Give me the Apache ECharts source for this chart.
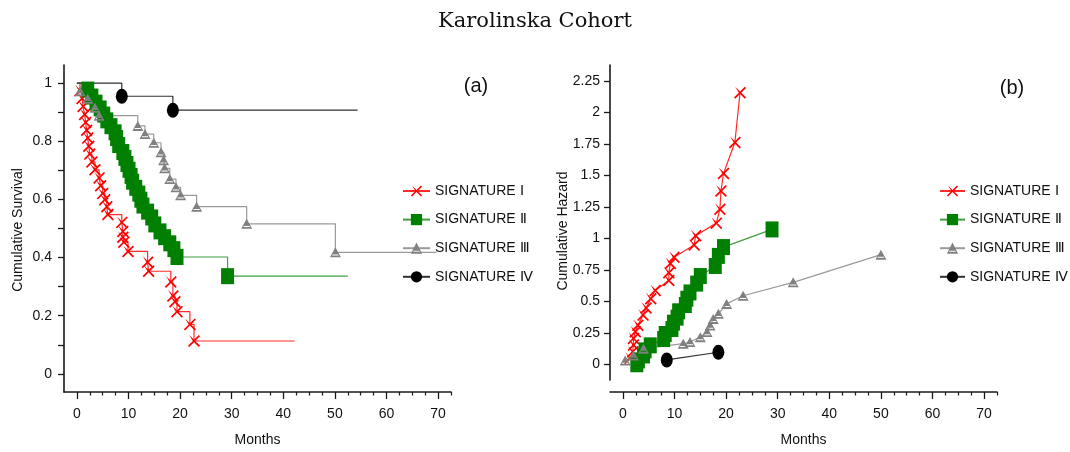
<!DOCTYPE html>
<html>
<head>
<meta charset="utf-8">
<script src="https://cdn.jsdelivr.net/npm/echarts@6/dist/echarts.min.js"></script>
<style>
html,body{margin:0;padding:0;background:#fff;}
#chart{width:1070px;height:452px;}
</style>
</head>
<body>
<div id="chart"></div>
<script>
// ---------- data ----------
const seriesNames = ['SIGNATURE Ⅰ', 'SIGNATURE Ⅱ', 'SIGNATURE Ⅲ', 'SIGNATURE Ⅳ'];

// (a) Kaplan-Meier survival: [month, survival]
const survI = [[0,1],[0.6,0.974],[1.0,0.947],[1.2,0.92],[1.5,0.892],[1.7,0.865],[1.9,0.838],[2.1,0.811],[2.3,0.783],[2.5,0.756],[2.9,0.729],[3.5,0.702],[4.3,0.674],[4.6,0.647],[5.0,0.620],[5.4,0.599],[5.8,0.575],[6.0,0.548],[8.7,0.521],[8.9,0.49],[8.9,0.47],[9.1,0.453],[9.9,0.421],[13.7,0.384],[13.9,0.353],[18.2,0.316],[18.6,0.268],[19.0,0.248],[19.4,0.214],[21.9,0.170],[22.7,0.113],[42.2,0.113]];
const survII = [[0,1],[2.1,0.978],[2.9,0.954],[3.7,0.933],[4.5,0.913],[5.2,0.892],[5.8,0.872],[6.6,0.852],[7.4,0.831],[7.7,0.811],[8.1,0.787],[8.9,0.763],[9.3,0.743],[9.7,0.722],[10.1,0.702],[10.5,0.681],[10.8,0.661],[11.4,0.640],[12.0,0.620],[12.4,0.599],[12.8,0.579],[13.7,0.558],[14.5,0.538],[15.1,0.514],[16.1,0.490],[17.0,0.470],[18.0,0.449],[18.8,0.429],[19.4,0.402],[29.2,0.336],[52.5,0.336]];
const survIII = [[0,1],[0.6,0.972],[2.1,0.946],[3.5,0.915],[4.3,0.888],[11.8,0.853],[13.2,0.825],[14.9,0.795],[16.3,0.762],[16.8,0.735],[17.0,0.707],[18.0,0.670],[19.2,0.642],[20.1,0.614],[23.2,0.575],[32.9,0.516],[50.1,0.418],[69.7,0.418]];
const survIV = [[0,1],[8.7,0.955],[18.6,0.907],[54.4,0.907]];

// (b) cumulative hazard: [month, hazard]
const hazI = [[1.4,0.047],[1.9,0.10],[2.05,0.152],[2.05,0.205],[2.4,0.258],[2.9,0.31],[3.9,0.39],[4.5,0.447],[5.4,0.52],[6.25,0.586],[8.9,0.665],[8.9,0.726],[9.2,0.80],[9.9,0.85],[13.8,0.946],[14.1,1.02],[18.1,1.12],[18.8,1.23],[19.0,1.375],[19.5,1.514],[21.7,1.76],[22.7,2.155]];
const hazII = [[2.7,0.0],[3.0,0.03],[4.0,0.07],[4.3,0.11],[5.3,0.15],[7.9,0.20],[8.2,0.24],[9.5,0.28],[9.8,0.33],[10.5,0.37],[10.8,0.42],[12.1,0.47],[12.4,0.52],[13.0,0.57],[14.3,0.64],[15.0,0.70],[17.9,0.78],[18.5,0.86],[19.5,0.93],[28.9,1.07]];
const hazIII = [[0.45,0.03],[2.05,0.07],[4.0,0.124],[11.7,0.163],[13.0,0.176],[15.0,0.215],[16.3,0.255],[16.9,0.308],[17.5,0.36],[18.5,0.40],[20.1,0.479],[23.3,0.544],[33.0,0.65],[50.0,0.87]];
const hazIV = [[8.5,0.034],[18.5,0.095]];

// axis ticks / labels
const monthMajor = [0,10,20,30,40,50,60,70];
const monthMinor = [2.5,5,7.5,12.5,15,17.5,22.5,25,27.5,32.5,35,37.5,42.5,45,47.5,52.5,55,57.5,62.5,65,67.5,72.5];
const survTicks = [0,0.1,0.2,0.3,0.4,0.5,0.6,0.7,0.8,0.9,1];
const survLabels = [0,0.2,0.4,0.6,0.8,1];
const hazTicks = [0,0.25,0.5,0.75,1,1.25,1.5,1.75,2,2.25];

// ---------- styles ----------
const FONT = 'Liberation Sans, Arial, sans-serif';
const AX = '#1a1a1a';
const crossPath = 'path://M1,0L5,4L9,0L10,1L6,5L10,9L9,10L5,6L1,10L0,9L4,5Z';
const trianglePath = 'path://M5.5,0L11,10L0,10Z M2.6,7.2L2.2,8.2L8.8,8.2L8.4,7.2Z';
const styles = [
  {symbol: crossPath, symbolSize: 12, color: '#ff0000', line: '#ff2a2a'},
  {symbol: 'rect', symbolSize: [13,16], color: '#007f00', line: '#3f9f3f'},
  {symbol: trianglePath, symbolSize: [11,10], color: '#808080', line: '#9a9a9a'},
  {symbol: 'circle', symbolSize: [12,15], color: '#000000', line: '#303030'}
];

function kmData(arr){
  // first (start) and last (censoring end) points carry no marker
  return arr.map((p, i) => (i === 0 || i === arr.length - 1) ? {value: p, symbol: 'none'} : {value: p});
}

const survSets = [survI, survII, survIII, survIV];
const hazSets = [hazI, hazII, hazIII, hazIV];
const series = [];
survSets.forEach((d, k) => {
  const s = styles[k];
  series.push({
    name: seriesNames[k], type: 'line', xAxisIndex: 0, yAxisIndex: 0,
    step: 'end', data: kmData(d), symbol: s.symbol, symbolSize: s.symbolSize,
    showAllSymbol: true, itemStyle: {color: s.color},
    lineStyle: {color: s.line, width: 1.2}, emphasis: {disabled: true}
  });
});
hazSets.forEach((d, k) => {
  const s = styles[k];
  series.push({
    name: seriesNames[k], type: 'line', xAxisIndex: 2, yAxisIndex: 1,
    data: d, symbol: s.symbol, symbolSize: s.symbolSize,
    showAllSymbol: true, itemStyle: {color: s.color},
    lineStyle: {color: s.line, width: 1.2}, emphasis: {disabled: true}
  });
});

const labelStyle = {fontFamily: FONT, fontSize: 14, color: '#111'};
function xMain(grid, offset){
  return {
    gridIndex: grid, type: 'value', position: 'bottom', offset: offset, min: -2.5, max: 72.5,
    axisLine: {show: true, onZero: false, lineStyle: {color: AX, width: 1.6}},
    axisTick: {show: true, length: 7, customValues: monthMajor, lineStyle: {color: AX, width: 1.3}},
    axisLabel: Object.assign({customValues: monthMajor, margin: 15}, labelStyle),
    splitLine: {show: false},
    name: 'Months', nameLocation: 'middle', nameGap: 41,
    nameTextStyle: {fontFamily: FONT, fontSize: 14, color: '#111'}
  };
}
function xMinor(grid, offset){
  return {
    gridIndex: grid, type: 'value', position: 'bottom', offset: offset, min: -2.5, max: 72.5,
    axisLine: {show: false, onZero: false},
    axisTick: {show: true, length: 3.5, customValues: monthMinor, lineStyle: {color: AX, width: 1.2}},
    axisLabel: {show: false}, splitLine: {show: false}
  };
}

const option = {
  animation: false,
  backgroundColor: '#ffffff',
  title: {
    text: 'Karolinska Cohort', left: 'center', top: 6,
    textStyle: {fontFamily: 'DejaVu Serif, serif', fontSize: 21, fontWeight: 'normal', color: '#111'}
  },
  grid: [
    {left: 64, top: 65, width: 387, height: 329},
    {left: 610, top: 65, width: 387, height: 317}
  ],
  xAxis: [xMain(0, 0), xMinor(0, 0), xMain(1, 12), xMinor(1, 12)],
  yAxis: [
    {
      gridIndex: 0, type: 'value', min: -0.0625, max: 1.0625,
      axisLine: {show: true, onZero: false, lineStyle: {color: AX, width: 1.6}},
      axisTick: {show: true, length: 6, customValues: survTicks, lineStyle: {color: AX, width: 1.3}},
      axisLabel: Object.assign({customValues: survLabels, margin: 12}, labelStyle),
      splitLine: {show: false}
    },
    {
      gridIndex: 1, type: 'value', min: -0.125, max: 2.375,
      axisLine: {show: true, onZero: false, lineStyle: {color: AX, width: 1.6}},
      axisTick: {show: true, length: 6, customValues: hazTicks, lineStyle: {color: AX, width: 1.3}},
      axisLabel: Object.assign({customValues: hazTicks, margin: 10}, labelStyle),
      splitLine: {show: false}
    }
  ],
  legend: [
    {left: 397, top: 179, orient: 'vertical', itemWidth: 27, itemHeight: 14, itemGap: 14.6,
     textStyle: labelStyle, data: seriesNames, selectedMode: false},
    {left: 934, top: 179, orient: 'vertical', itemWidth: 25, itemHeight: 14, itemGap: 14.6,
     textStyle: labelStyle, data: seriesNames, selectedMode: false}
  ],
  graphic: [
    {type: 'text', x: 476, y: 86, style: {text: '(a)', fontFamily: FONT, fontSize: 20, fill: '#111', align: 'center', verticalAlign: 'middle'}},
    {type: 'text', x: 1012, y: 88, style: {text: '(b)', fontFamily: FONT, fontSize: 20, fill: '#111', align: 'center', verticalAlign: 'middle'}},
    {type: 'text', x: 18, y: 230, rotation: Math.PI / 2, style: {text: 'Cumulative Survival', fontFamily: FONT, fontSize: 14, fill: '#111', align: 'center', verticalAlign: 'middle'}},
    {type: 'text', x: 563, y: 231, rotation: Math.PI / 2, style: {text: 'Cumulative Hazard', fontFamily: FONT, fontSize: 14, fill: '#111', align: 'center', verticalAlign: 'middle'}}
  ],
  series: series
};

const chart = echarts.init(document.getElementById('chart'), null, {renderer: 'canvas'});
chart.setOption(option);
</script>
</body>
</html>
